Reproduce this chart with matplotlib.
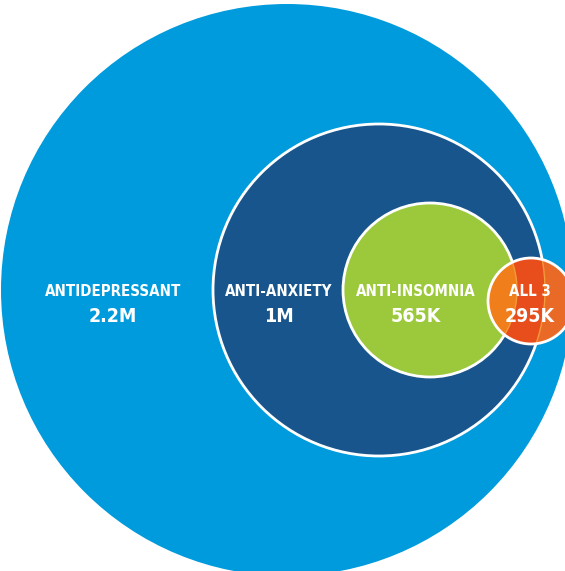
import numpy as np
import matplotlib.pyplot as plt
from matplotlib.patches import Circle

# data
groups = ["ANTIDEPRESSANT", "ANTI-ANXIETY", "ANTI-INSOMNIA", "ALL 3"]
counts = ["2.2M", "1M", "565K", "295K"]
colors = ["#009bdc", "#17558c", "#9cc93c", "#f07e1a"]

# layout (pixel space of the picture)
centers = [(287, 290), (379, 290), (430, 290), (531, 301)]
radii = [286, 166, 87, 43]
label_x = [113, 279, 416, 530]

fig = plt.figure(figsize=(5.65, 5.71), dpi=100)
ax = fig.add_axes([0, 0, 1, 1])
ax.set_xlim(0, 565)
ax.set_ylim(571, 0)
ax.set_aspect("auto")
ax.axis("off")

font = ["DejaVu Sans"]

for i in range(3):
    ax.add_patch(Circle(centers[i], radii[i], facecolor=colors[i],
                        edgecolor="white" if i else "none", lw=2, zorder=i + 1))

# the small "all 3" circle, split where the other circles pass through it
clip = Circle(centers[3], radii[3], transform=ax.transData)
ax.add_patch(Circle(centers[3], radii[3], facecolor="#e86a26", edgecolor="none", zorder=4))
p = ax.add_patch(Circle(centers[1], radii[1], facecolor="#e84e1b", edgecolor="#f39a3a", lw=1, zorder=5))
p.set_clip_path(clip)
p = ax.add_patch(Circle(centers[2], radii[2], facecolor=colors[3], edgecolor="#f39a3a", lw=1, zorder=6))
p.set_clip_path(clip)
ax.add_patch(Circle(centers[3], radii[3], facecolor="none", edgecolor="white", lw=2, zorder=7))

for i in range(4):
    ax.text(label_x[i], 291, groups[i], color="white", fontsize=10.8, fontweight="bold",
            family=font, fontstretch="condensed", ha="center", va="center", zorder=10)
    ax.text(label_x[i], 317, counts[i], color="white", fontsize=14, fontweight="bold",
            family=font, fontstretch="condensed", ha="center", va="center", zorder=10)

fig.savefig("out.png", dpi=100)
